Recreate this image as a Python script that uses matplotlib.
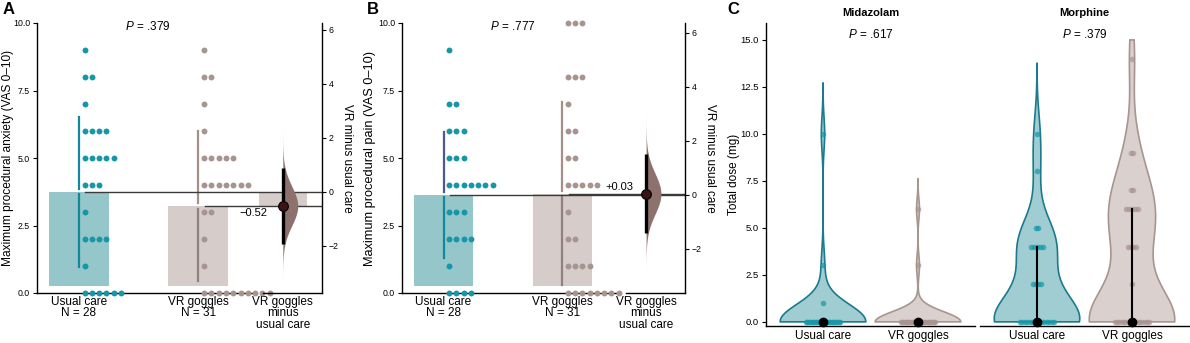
import numpy as np
import matplotlib.pyplot as plt

plt.rcParams['font.family'] = ['Liberation Sans', 'DejaVu Sans']
plt.rcParams['mathtext.fontset'] = 'custom'
plt.rcParams['mathtext.rm'] = 'Liberation Sans'
plt.rcParams['mathtext.it'] = 'Liberation Sans:italic'

# VAS score levels and number of patients per level
vas_levels = np.arange(0, 11)
anx_usual_counts = [6, 1, 4, 1, 3, 5, 4, 1, 2, 1, 0]
anx_vr_counts = [10, 1, 1, 2, 7, 5, 1, 1, 2, 1, 0]
pain_usual_counts = [4, 1, 4, 3, 7, 3, 3, 2, 0, 1, 0]
pain_vr_counts = [8, 4, 2, 1, 5, 2, 2, 1, 3, 0, 3]

group_labels = ["Usual care\nN = 28", "VR goggles\nN = 31", "VR goggles\nminus\nusual care"]
p_anxiety = "$P$ = .379"
p_pain = "$P$ = .777"

# total doses (mg) per patient
midazolam_usual = [0] * 25 + [1, 3, 10]
midazolam_vr = [0] * 29 + [3, 6]
morphine_usual = [0] * 15 + [2] * 4 + [4] * 5 + [5] * 2 + [8, 10]
morphine_vr = [0] * 16 + [2, 4, 4, 4, 4, 6, 6, 6, 6, 6, 7, 7, 9, 9, 14]
drug_names = ["Midazolam", "Morphine"]
drug_p = ["$P$ = .617", "$P$ = .379"]
dose_groups = ["Usual care", "VR goggles"]

TEAL_DOT = "#1697a8"
TEAL_BAR = "#95c6ca"
TEAL_LINE = "#13889a"
MAUVE_DOT = "#a8948f"
MAUVE_BAR = "#d6ccc9"
MAUVE_LINE = "#a88e89"
DIST = "#8c716d"

fig = plt.figure(figsize=(11.9, 3.43), dpi=100)
W, H = 1190, 343


def px_axes(x0, x1, y0, y1):
    return fig.add_axes([x0 / W, 1 - y1 / H, (x1 - x0) / W, (y1 - y0) / H])


def estimation_panel(ax, usual_counts, vr_counts, ylabel, ylabel_size, ylabel_x,
                     p_text, diff_label, label_below, upper_sd_color=TEAL_LINE):
    usual = np.repeat(vas_levels, usual_counts)
    vr = np.repeat(vas_levels, vr_counts)
    mu, mv = usual.mean(), vr.mean()
    su, sv = usual.std(ddof=1), vr.std(ddof=1)
    diff = mv - mu
    se = np.sqrt(su ** 2 / len(usual) + sv ** 2 / len(vr))
    dpos = 1.707
    xlim = (-0.35, 2.035)

    ax.set_xlim(*xlim)
    ax.set_ylim(0, 10)

    # mean bars
    ax.bar([0, 1], [mu - 0.25, mv - 0.25], bottom=0.25, width=0.5,
           color=[TEAL_BAR, MAUVE_BAR], zorder=1)

    # individual scores as dot rows
    for g, counts, col in [(0, usual_counts, TEAL_DOT), (1, vr_counts, MAUVE_DOT)]:
        for lvl, c in zip(vas_levels, counts):
            if c == 0:
                continue
            xs = g + 0.048 + 0.061 * np.arange(c)
            ax.scatter(xs, [lvl] * c, s=18, color=col, lw=0, zorder=4, clip_on=False)

    # mean +/- SD with a gap at the mean
    gap = 0.1
    ax.plot([0, 0], [mu + gap, mu + su], color=upper_sd_color, lw=1.6, zorder=3)
    ax.plot([0, 0], [mu - su, mu - gap], color=TEAL_LINE, lw=1.6, zorder=3)
    ax.plot([1, 1], [mv + gap, mv + sv], color=MAUVE_LINE, lw=1.6, zorder=3)
    ax.plot([1, 1], [mv - sv, mv - gap], color="#8f817e", lw=1.6, zorder=3)

    for side in ["top", "right"]:
        ax.spines[side].set_visible(False)
    ax.spines["left"].set_linewidth(1.0)
    ax.spines["bottom"].set_linewidth(1.0)
    ax.spines["bottom"].set_bounds(xlim[0], 1.46)
    ax.set_yticks([0, 2.5, 5, 7.5, 10])
    ax.set_yticklabels([f"{v:.1f}" for v in [0, 2.5, 5, 7.5, 10]])
    ax.set_xticks([0, 1, dpos])
    ax.set_xticklabels(group_labels, fontsize=8.5, linespacing=0.95)
    ax.tick_params(axis="x", length=0, pad=2)
    ax.tick_params(axis="y", length=3, width=0.8, labelsize=6.3, pad=2)
    ax.set_ylabel(ylabel, fontsize=ylabel_size)
    ax.yaxis.set_label_coords(ylabel_x, 0.5)
    ax.text(0.58, 9.88, p_text, ha="center", va="center", fontsize=8.5)

    # difference axis on the right, zero at the usual-care mean
    tw = ax.twinx()
    tw.set_ylim(-mu, 10 - mu)
    tw.set_xlim(*xlim)
    for side in ["top", "left"]:
        tw.spines[side].set_visible(False)
    tw.spines["right"].set_linewidth(1.0)
    tw.spines["bottom"].set_linewidth(1.0)
    tw.spines["bottom"].set_bounds(1.54, xlim[1])
    tw.set_yticks([-2, 0, 2, 4, 6])
    tw.tick_params(axis="y", length=3, width=0.8, labelsize=6.3, pad=2)
    tw.set_ylabel("VR minus usual care", rotation=270, va="bottom", fontsize=8.5)
    tw.yaxis.set_label_coords(1.067, 0.5)

    tw.fill_between([1.506, 1.908], 0, diff, color=MAUVE_BAR, lw=0, zorder=1)
    tw.plot([0.055, xlim[1]], [0, 0], color="#3a3a3a", lw=1.0, zorder=2)
    tw.plot([1.055, xlim[1]], [diff, diff], color="#3a3a3a", lw=1.0, zorder=2)

    # bootstrap-style distribution of the mean difference
    y = np.linspace(diff - 4.3 * se, diff + 4.3 * se, 300)
    dens = np.exp(-0.5 * ((y - diff) / se) ** 2)
    tw.fill_betweenx(y, dpos, dpos + 0.125 * dens, color=DIST, lw=0, zorder=3)
    tw.plot([dpos, dpos], [diff - 1.96 * se, diff + 1.96 * se],
            color="black", lw=2.4, zorder=4, solid_capstyle="butt")
    tw.plot(dpos, diff, "o", ms=7, mfc="#3a1414", mec="black", mew=0.8, zorder=5)

    if label_below:
        tw.text(1.58, diff - 0.08, diff_label, ha="right", va="top", fontsize=8)
    else:
        tw.text(1.6, diff + 0.08, diff_label, ha="right", va="bottom", fontsize=8)


ax_a = px_axes(37, 322, 23, 293)
estimation_panel(ax_a, anx_usual_counts, anx_vr_counts,
                 "Maximum procedural anxiety (VAS 0\u201310)", 8.6, -0.081,
                 p_anxiety, "\u22120.52", True)

ax_b = px_axes(402, 685, 23, 293)
estimation_panel(ax_b, pain_usual_counts, pain_vr_counts,
                 "Maximum procedural pain (VAS 0\u201310)", 9.2, -0.092,
                 p_pain, "+0.03", False, upper_sd_color="#4c5a94")


# violin plots of total dose
def kde_violin(ax, values, pos, fill, edge, dot):
    v = np.asarray(values, dtype=float)
    n = len(v)
    sd = v.std(ddof=1)
    iqr = np.subtract(*np.percentile(v, [75, 25]))
    lo = min(sd, iqr / 1.34) or sd
    bw = 0.9 * lo * n ** -0.2
    y = np.linspace(0, min(v.max() + 3 * bw, 15), 400)
    dens = np.exp(-0.5 * ((y[:, None] - v[None, :]) / bw) ** 2).sum(axis=1)
    w = 0.45 * dens / dens.max()
    ax.fill(np.concatenate([pos - w, (pos + w)[::-1]]),
            np.concatenate([y, y[::-1]]),
            facecolor=fill, edgecolor=edge, lw=1.2, zorder=1)
    vals, counts = np.unique(v, return_counts=True)
    for val, c in zip(vals, counts):
        half = min(0.18, 0.015 * (c - 1))
        xs = pos + np.linspace(-half, half, c)
        ax.scatter(xs, [val] * c, s=16, color=dot, alpha=0.7, lw=0, zorder=2)
    q1, med, q3 = np.percentile(v, [25, 50, 75])
    ax.plot([pos, pos], [q1, q3], color="black", lw=1.5, zorder=3)
    ax.plot(pos, med, "o", color="black", ms=6, zorder=4, clip_on=False)


facets = [px_axes(766, 975, 23, 326), px_axes(980, 1189, 23, 326)]
doses = [(midazolam_usual, midazolam_vr), (morphine_usual, morphine_vr)]
for i, ax in enumerate(facets):
    uc, vr = doses[i]
    kde_violin(ax, uc, 1, "#9fcdd1", "#1b7a8e", TEAL_DOT)
    kde_violin(ax, vr, 2, "#dad0cd", "#a8958f", MAUVE_DOT)
    ax.set_xlim(0.4, 2.6)
    ax.set_ylim(-0.22, 15.9)
    ax.set_xticks([1, 2])
    ax.set_xticklabels(dose_groups, fontsize=8.5)
    ax.tick_params(axis="x", length=0, pad=3)
    ax.set_yticks([0, 2.5, 5, 7.5, 10, 12.5, 15])
    ax.set_yticklabels([f"{t:.1f}" for t in [0, 2.5, 5, 7.5, 10, 12.5, 15]])
    ax.tick_params(axis="y", length=3, width=0.8, labelsize=6.8, pad=2)
    for side in ["top", "right"]:
        ax.spines[side].set_visible(False)
    ax.spines["bottom"].set_linewidth(1.0)
    ax.spines["left"].set_linewidth(1.0)
    ax.text(0.5, 1.033, drug_names[i], transform=ax.transAxes, ha="center",
            va="center", fontsize=8, fontweight="bold")
    ax.text(1.5, 15.27, drug_p[i], ha="center", va="center", fontsize=8.5)

facets[0].set_ylabel("Total dose (mg)", fontsize=8.5)
facets[0].yaxis.set_label_coords(-0.124, 0.5)
facets[1].spines["left"].set_visible(False)
facets[1].tick_params(axis="y", left=False, labelleft=False)

for letter, x in [("A", 3), ("B", 367), ("C", 727)]:
    fig.text(x / W, 1 - 9 / H, letter, fontsize=12, fontweight="bold",
             ha="left", va="center")

fig.savefig("out.png", dpi=100)
